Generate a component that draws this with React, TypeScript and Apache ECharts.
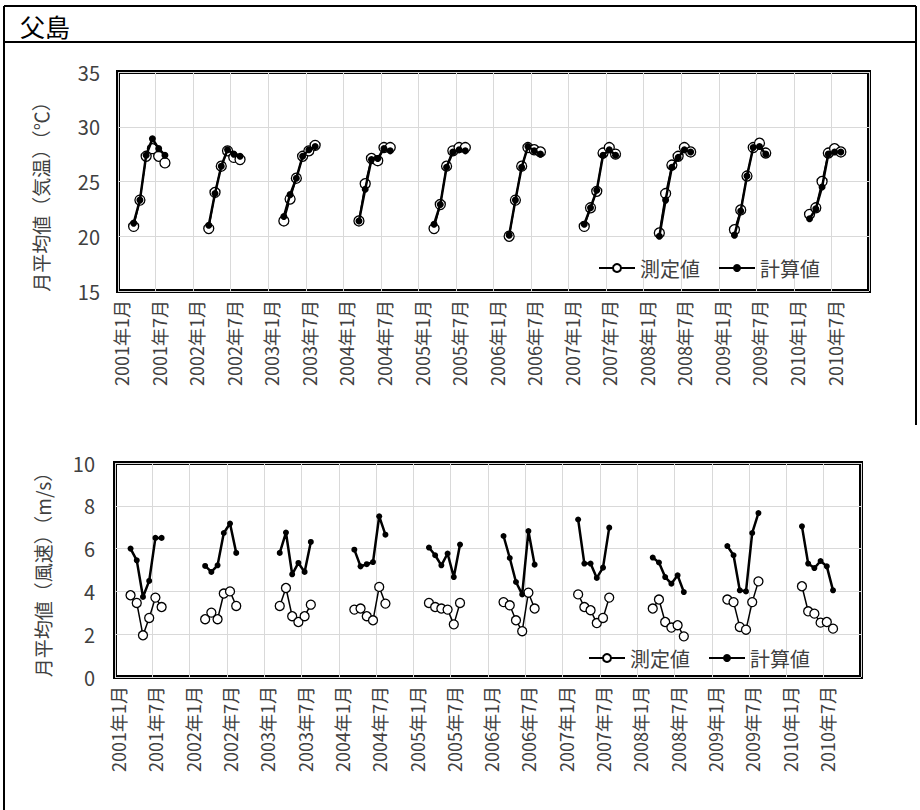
import React, { useEffect, useRef } from "react";
import * as echarts from "echarts";

const years = [2001, 2002, 2003, 2004, 2005, 2006, 2007, 2008, 2009, 2010];
const dataMonths = [3, 4, 5, 6, 7, 8];

const tempMeasured = [
  20.9, 23.3, 27.3, 28.0, 27.3, 26.7,
  20.7, 24.0, 26.4, 27.8, 27.2, 27.0,
  21.4, 23.4, 25.3, 27.3, 27.8, 28.3,
  21.4, 24.8, 27.1, 26.9, 28.1, 28.1,
  20.7, 22.9, 26.4, 27.8, 28.1, 28.1,
  20.0, 23.3, 26.4, 28.1, 27.9, 27.7,
  20.9, 22.6, 24.1, 27.6, 28.1, 27.5,
  20.3, 23.9, 26.5, 27.3, 28.1, 27.7,
  20.6, 22.4, 25.5, 28.1, 28.5, 27.6,
  22.0, 22.6, 25.0, 27.6, 28.0, 27.7,
];

const tempCalc = [
  21.2, 23.3, 27.4, 28.9, 28.0, 27.4,
  21.0, 23.9, 26.4, 27.9, 27.5, 27.3,
  21.8, 23.8, 25.3, 27.3, 27.9, 28.2,
  21.4, 24.3, 27.0, 27.1, 28.0, 27.8,
  21.1, 22.9, 26.3, 27.7, 27.9, 27.8,
  20.1, 23.3, 26.3, 28.2, 27.8, 27.5,
  21.1, 22.6, 24.2, 27.4, 27.9, 27.4,
  20.0, 23.3, 26.3, 27.2, 27.9, 27.7,
  20.1, 22.3, 25.5, 28.1, 28.2, 27.5,
  21.6, 22.5, 24.5, 27.5, 27.7, 27.7,
];

const windMeasured = [
  3.82, 3.46, 1.95, 2.76, 3.71, 3.27,
  2.70, 3.01, 2.70, 3.90, 4.00, 3.32,
  3.32, 4.16, 2.84, 2.57, 2.84, 3.38,
  3.15, 3.20, 2.84, 2.65, 4.21, 3.43,
  3.46, 3.27, 3.20, 3.15, 2.46, 3.46,
  3.50, 3.35, 2.65, 2.14, 3.94, 3.20,
  3.86, 3.27, 3.12, 2.52, 2.76, 3.71,
  3.20, 3.62, 2.57, 2.31, 2.42, 1.90,
  3.62, 3.50, 2.34, 2.21, 3.50, 4.47,
  4.24, 3.07, 2.96, 2.54, 2.57, 2.26,
];

const windCalc = [
  6.00, 5.45, 3.74, 4.49, 6.50, 6.50,
  5.19, 4.91, 5.22, 6.73, 7.17, 5.80,
  5.80, 6.75, 4.80, 5.33, 4.91, 6.31,
  5.95, 5.17, 5.27, 5.37, 7.51, 6.65,
  6.05, 5.69, 5.22, 5.77, 4.67, 6.19,
  6.59, 5.56, 4.44, 3.86, 6.82, 5.25,
  7.36, 5.30, 5.30, 4.63, 5.11, 6.98,
  5.58, 5.35, 4.67, 4.36, 4.75, 3.97,
  6.12, 5.69, 4.05, 4.00, 6.73, 7.66,
  7.04, 5.30, 5.09, 5.42, 5.17, 4.05,
];

const categories: string[] = [];
years.forEach((y) => {
  for (let m = 1; m <= 12; m++) categories.push(`${y}年${m}月`);
});

function expand(arr: number[]): (number | null)[] {
  return categories.map((_, i) => {
    const yi = Math.floor(i / 12);
    const m = (i % 12) + 1;
    const k = dataMonths.indexOf(m);
    return k >= 0 ? arr[yi * 6 + k] : null;
  });
}

const FONT = "'Noto Sans CJK JP', 'Noto Sans', sans-serif";
const TXT = "#404040";

export default function App() {
  const ref = useRef<HTMLDivElement>(null);
  useEffect(() => {
    document.body.style.margin = "0";
    const chart = echarts.init(ref.current!, null, { renderer: "svg" });

    const xAxisBase = (gridIndex: number) => ({
      type: "category",
      gridIndex,
      data: categories,
      boundaryGap: true,
      axisLine: { show: false },
      axisTick: { show: false },
      axisLabel: {
        interval: 5,
        rotate: 90,
        fontSize: 18,
        color: TXT,
        fontFamily: FONT,
        margin: 9,
      },
      splitLine: { show: true, interval: 5, lineStyle: { color: "#d9d9d9", width: 1 } },
    });

    const measuredStyle = (gi: number, data: (number | null)[], size: number) => ({
      name: "測定値",
      type: "line",
      xAxisIndex: gi,
      yAxisIndex: gi,
      data,
      connectNulls: false,
      showSymbol: true,
      showAllSymbol: true,
      symbol: "circle",
      symbolSize: size,
      z: 2,
      lineStyle: { color: "#000", width: 1.5 },
      itemStyle: { color: "#fff", borderColor: "#000", borderWidth: 1.3 },
    });
    const calcStyle = (gi: number, data: (number | null)[], size: number) => ({
      name: "計算値",
      type: "line",
      xAxisIndex: gi,
      yAxisIndex: gi,
      data,
      connectNulls: false,
      showSymbol: true,
      showAllSymbol: true,
      symbol: "circle",
      symbolSize: size,
      z: 3,
      lineStyle: { color: "#000", width: 2.5 },
      itemStyle: { color: "#000", borderColor: "#000", borderWidth: 0 },
    });

    const legendBase = {
      selectedMode: false,
      itemWidth: 36,
      itemHeight: 10,
      itemGap: 18,
      textStyle: { fontSize: 20, color: TXT, fontFamily: FONT },
      data: ["測定値", "計算値"],
    };

    chart.setOption({
      animation: false,
      backgroundColor: "#fff",
      textStyle: { fontFamily: FONT },
      grid: [
        { left: 118, top: 72, width: 751, height: 219, show: true, borderColor: "#000", borderWidth: 4, backgroundColor: "transparent" },
        { left: 115, top: 463, width: 746, height: 214, show: true, borderColor: "#000", borderWidth: 4, backgroundColor: "transparent" },
      ],
      legend: [
        { ...legendBase, left: 593, top: 253 },
        { ...legendBase, left: 583, top: 643 },
      ],
      xAxis: [xAxisBase(0), xAxisBase(1)],
      yAxis: [
        {
          type: "value",
          gridIndex: 0,
          min: 15,
          max: 35,
          interval: 5,
          axisLine: { show: false },
          axisTick: { show: false },
          axisLabel: { fontSize: 20, color: TXT, fontFamily: FONT, margin: 18 },
          splitLine: { show: true, lineStyle: { color: "#d9d9d9", width: 1 } },
        },
        {
          type: "value",
          gridIndex: 1,
          min: 0,
          max: 10,
          interval: 2,
          axisLine: { show: false },
          axisTick: { show: false },
          axisLabel: { fontSize: 20, color: TXT, fontFamily: FONT, margin: 20 },
          splitLine: { show: true, lineStyle: { color: "#d9d9d9", width: 1 } },
        },
      ],
      series: [
        measuredStyle(0, expand(tempMeasured), 10),
        calcStyle(0, expand(tempCalc), 7),
        measuredStyle(1, expand(windMeasured), 9),
        calcStyle(1, expand(windCalc), 6),
      ],
      graphic: [
        { type: "line", shape: { x1: 4, y1: 6, x2: 916, y2: 6 }, style: { stroke: "#000", lineWidth: 2 } },
        { type: "line", shape: { x1: 4, y1: 6, x2: 4, y2: 810 }, style: { stroke: "#000", lineWidth: 2 } },
        { type: "line", shape: { x1: 916, y1: 6, x2: 916, y2: 425 }, style: { stroke: "#000", lineWidth: 2 } },
        { type: "line", shape: { x1: 4, y1: 42, x2: 916, y2: 42 }, style: { stroke: "#000", lineWidth: 2 } },
        {
          type: "text",
          x: 20,
          y: 26,
          style: { text: "父島", fontSize: 25, fill: "#000", fontFamily: FONT, verticalAlign: "middle", align: "left" },
        },
        {
          type: "text",
          x: 40,
          y: 192,
          rotation: Math.PI / 2,
          style: { text: "月平均値（気温）（℃）", fontSize: 19, fill: TXT, fontFamily: FONT, align: "center", verticalAlign: "middle" },
        },
        {
          type: "text",
          x: 42,
          y: 570,
          rotation: Math.PI / 2,
          style: { text: "月平均値（風速）（m/s）", fontSize: 19, fill: TXT, fontFamily: FONT, align: "center", verticalAlign: "middle" },
        },
      ],
    });
    return () => chart.dispose();
  }, []);
  return <div ref={ref} style={{ position: "absolute", left: 0, top: 0, width: 920, height: 810 }} />;
}
